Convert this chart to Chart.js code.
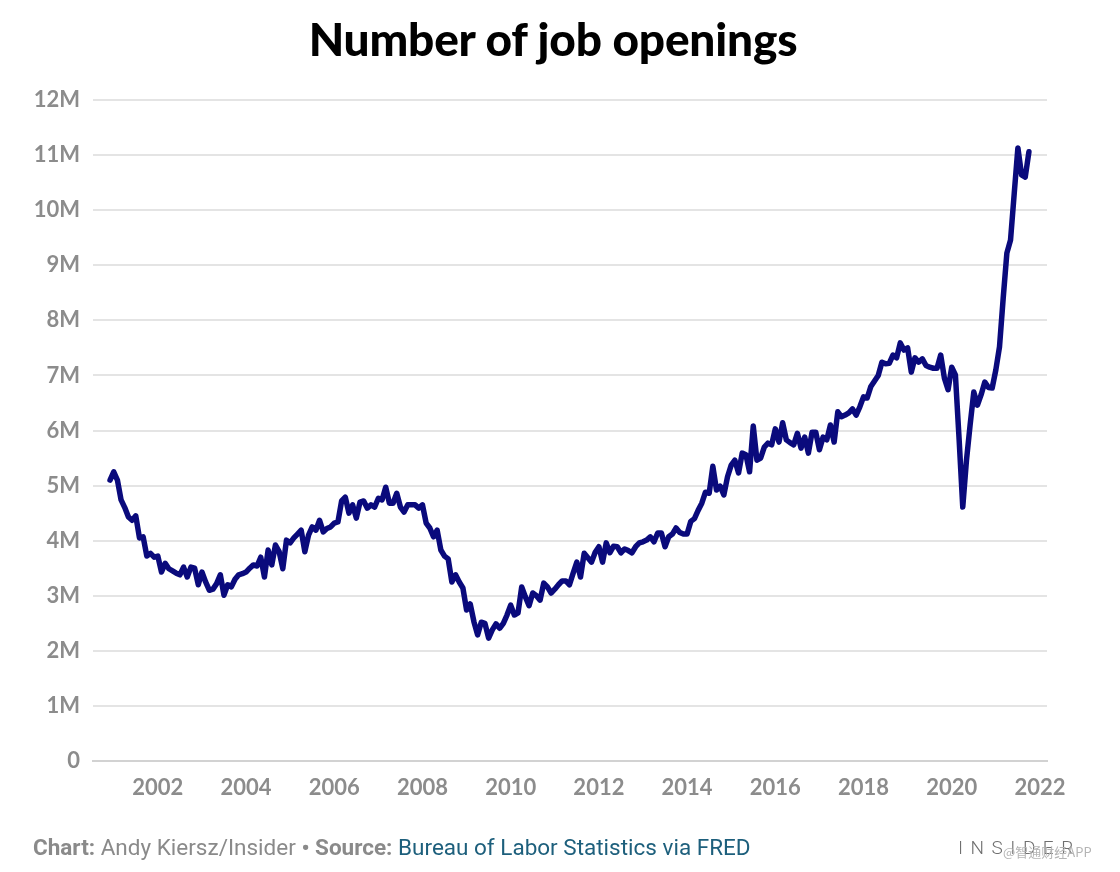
<!DOCTYPE html>
<html><head><meta charset="utf-8">
<script src="https://cdn.jsdelivr.net/npm/chart.js@4"></script>
<style>
html,body{margin:0;padding:0;background:#fff;}
#wrap{position:relative;width:1120px;height:872px;overflow:hidden;}
canvas{position:absolute;left:0;top:0;}
#title{position:absolute;left:0;width:1106px;top:12px;text-align:center;font:900 46px Lato, sans-serif;line-height:54px;color:#000;letter-spacing:-0.2px;}
#foot{position:absolute;left:33px;top:833px;font:400 22.5px Roboto, sans-serif;line-height:28px;color:#8a8a8a;white-space:nowrap;}
#foot b{font-weight:700;}
#foot .src{color:#1d5f7c;}
#logo{position:absolute;left:958px;top:836px;font:300 19px Roboto, sans-serif;letter-spacing:7.5px;color:#6f6f6f;}
#wm{position:absolute;left:1003px;top:842px;font:400 13px "Noto Sans CJK SC", sans-serif;color:#b5b5b5;}
</style></head>
<body>
<div id="wrap">
<canvas id="c" width="1120" height="872"></canvas>
<div id="title">Number of job openings</div>
<div id="foot"><b>Chart:</b> Andy Kiersz/Insider <b>• Source:</b> <span class="src">Bureau of Labor Statistics via FRED</span></div>
<div id="logo">INSIDER</div>
<div id="wm">@智通财经APP</div>
</div>
<script>
// Monthly job openings, millions, Dec 2000 – Oct 2021
const startYear = 2000;
const startMonth = 12;
const openings = [
  5.10,
  5.25, 5.10, 4.74, 4.60, 4.43, 4.37, 4.45, 4.05, 4.07, 3.72, 3.77, 3.70,
  3.72, 3.43, 3.59, 3.49, 3.45, 3.41, 3.38, 3.52, 3.34, 3.52, 3.50, 3.20,
  3.43, 3.25, 3.10, 3.12, 3.22, 3.38, 3.01, 3.20, 3.16, 3.30, 3.38, 3.40,
  3.43, 3.50, 3.56, 3.54, 3.70, 3.34, 3.83, 3.56, 3.92, 3.80, 3.49, 4.01,
  3.96, 4.05, 4.12, 4.19, 3.80, 4.10, 4.25, 4.19, 4.37, 4.16, 4.22, 4.25,
  4.32, 4.34, 4.72, 4.79, 4.50, 4.65, 4.41, 4.70, 4.72, 4.59, 4.65, 4.61,
  4.77, 4.74, 4.97, 4.68, 4.68, 4.86, 4.61, 4.52, 4.65, 4.65, 4.65, 4.59,
  4.65, 4.32, 4.23, 4.07, 4.19, 3.83, 3.72, 3.67, 3.25, 3.38, 3.25, 3.14,
  2.74, 2.85, 2.53, 2.29, 2.52, 2.50, 2.23, 2.38, 2.49, 2.41, 2.50, 2.65,
  2.83, 2.65, 2.69, 3.16, 2.98, 2.82, 3.05, 3.00, 2.92, 3.23, 3.16, 3.05,
  3.12, 3.20, 3.27, 3.27, 3.20, 3.41, 3.61, 3.34, 3.77, 3.69, 3.61, 3.79,
  3.89, 3.61, 3.96, 3.78, 3.90, 3.89, 3.78, 3.85, 3.82, 3.78, 3.89, 3.96,
  3.98, 4.01, 4.07, 3.98, 4.14, 4.14, 3.89, 4.07, 4.12, 4.23, 4.15, 4.12,
  4.12, 4.35, 4.40, 4.55, 4.68, 4.88, 4.86, 5.35, 4.92, 4.99, 4.83, 5.16,
  5.37, 5.46, 5.23, 5.59, 5.56, 5.25, 6.08, 5.46, 5.50, 5.70, 5.77, 5.74,
  6.03, 5.79, 6.14, 5.83, 5.78, 5.74, 5.95, 5.68, 5.88, 5.59, 5.97, 5.97,
  5.65, 5.88, 5.83, 6.10, 5.79, 6.34, 6.25, 6.28, 6.32, 6.39, 6.28, 6.43,
  6.61, 6.59, 6.80, 6.90, 7.00, 7.24, 7.21, 7.22, 7.37, 7.32, 7.59, 7.46,
  7.50, 7.06, 7.32, 7.24, 7.30, 7.18, 7.15, 7.13, 7.13, 7.37, 6.95, 6.74,
  7.15, 7.01, 5.85, 4.61, 5.45, 6.10, 6.70, 6.46, 6.65, 6.88, 6.78, 6.77,
  7.10, 7.52, 8.40, 9.22, 9.46, 10.30, 11.13, 10.64, 10.60, 11.06
];
const yearTicks = [2002, 2004, 2006, 2008, 2010, 2012, 2014, 2016, 2018, 2020, 2022];
const valueTicks = [0, 1, 2, 3, 4, 5, 6, 7, 8, 9, 10, 11, 12];

const points = openings.map((v, i) => ({ x: startYear + (startMonth - 1 + i) / 12, y: v }));
const tickFont = { family: 'Lato', weight: 'bold', size: 22 };
const tickColor = '#8c8c8c';

new Chart(document.getElementById('c'), {
  type: 'line',
  data: { datasets: [{
    data: points,
    borderColor: '#0a0a7c',
    borderWidth: 5.5,
    pointRadius: 0,
    tension: 0,
    borderJoinStyle: 'round',
    borderCapStyle: 'round'
  }]},
  options: {
    responsive: false,
    animation: false,
    layout: { padding: { top: 100, right: 73, bottom: 61, left: 0 } },
    plugins: { legend: { display: false }, tooltip: { enabled: false }, title: { display: false } },
    scales: {
      x: {
        type: 'linear', min: 2000.53, max: 2022.16,
        afterBuildTicks: s => { s.ticks = yearTicks.map(v => ({ value: v })); },
        afterFit: s => { s.height = 50; },
        grid: { display: false, drawTicks: false },
        border: { display: true, color: '#d2d2d2', width: 2 },
        ticks: { padding: 14, color: tickColor, font: tickFont, maxRotation: 0, autoSkip: false, callback: v => String(v) }
      },
      y: {
        min: 0, max: 12,
        afterBuildTicks: s => { s.ticks = valueTicks.map(v => ({ value: v })); },
        afterFit: s => { s.width = 93; },
        grid: { color: '#e4e4e4', lineWidth: 2, drawTicks: false },
        border: { display: false },
        ticks: { padding: 13, color: tickColor, font: tickFont, callback: v => v === 0 ? '0' : v + 'M' }
      }
    }
  }
});
</script>
</body></html>
